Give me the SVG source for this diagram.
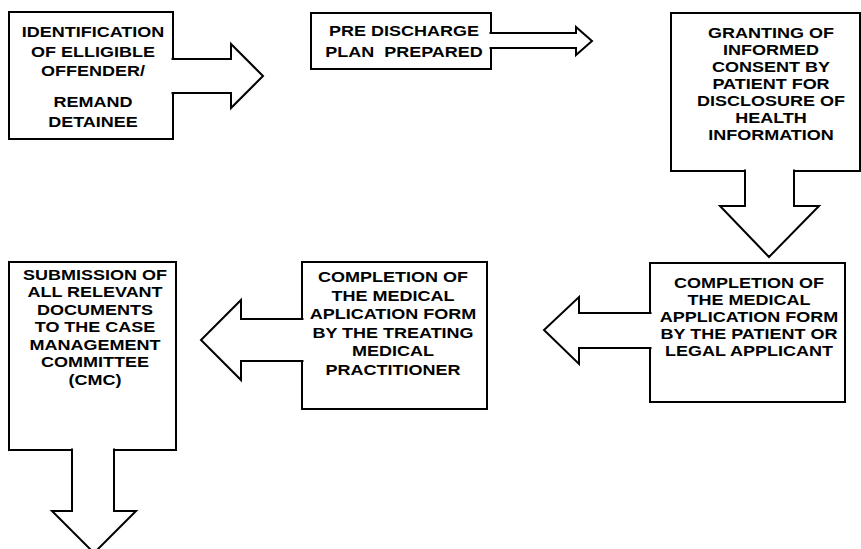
<svg xmlns="http://www.w3.org/2000/svg" width="861" height="549" viewBox="0 0 861 549">
<style>
.box{fill:#fff;stroke:#000;stroke-width:2}
.arr{fill:#fff;stroke:#000;stroke-width:2;stroke-linejoin:miter}
text{font-family:"Liberation Sans",Arial,sans-serif;font-weight:bold;font-size:15px;text-anchor:middle;fill:#000}
</style>
<rect width="861" height="549" fill="#fff"/>
<g id="n1">
<rect class="box" x="9" y="12" width="164" height="127"/>
<g transform="translate(93,0) scale(1.2,1)">
<text x="0" y="37.5">IDENTIFICATION</text>
<text x="0" y="57.5">OF ELLIGIBLE</text>
<text x="0" y="76.5">OFFENDER/</text>
<text x="0" y="107.5">REMAND</text>
<text x="0" y="127.5">DETAINEE</text>
</g>
</g>
<g id="n2">
<rect class="box" x="311" y="13" width="180" height="56"/>
<g transform="translate(404,0) scale(1.2,1)">
<text x="0" y="36.5">PRE DISCHARGE</text>
<text x="0" y="57.5" xml:space="preserve">PLAN  PREPARED</text>
</g>
</g>
<g id="n3">
<rect class="box" x="671" y="13" width="189" height="158"/>
<g transform="translate(771,0) scale(1.2,1)">
<text x="0" y="38.5">GRANTING OF</text>
<text x="0" y="55.5">INFORMED</text>
<text x="0" y="72.5">CONSENT BY</text>
<text x="0" y="89.5">PATIENT FOR</text>
<text x="0" y="106.5">DISCLOSURE OF</text>
<text x="0" y="123.5">HEALTH</text>
<text x="0" y="140.5">INFORMATION</text>
</g>
</g>
<g id="n4">
<rect class="box" x="650" y="263" width="195" height="139"/>
<g transform="translate(749,0) scale(1.2,1)">
<text x="0" y="288.5">COMPLETION OF</text>
<text x="0" y="305.5">THE MEDICAL</text>
<text x="0" y="322.5">APPLICATION FORM</text>
<text x="0" y="339.5">BY THE PATIENT OR</text>
<text x="0" y="356.5">LEGAL APPLICANT</text>
</g>
</g>
<g id="n5">
<rect class="box" x="302" y="262" width="185" height="147"/>
<g transform="translate(393,0) scale(1.2,1)">
<text x="0" y="282.5">COMPLETION OF</text>
<text x="0" y="301">THE MEDICAL</text>
<text x="0" y="319.5">APLICATION FORM</text>
<text x="0" y="338">BY THE TREATING</text>
<text x="0" y="356.5">MEDICAL</text>
<text x="0" y="375">PRACTITIONER</text>
</g>
</g>
<g id="n6">
<rect class="box" x="9" y="262" width="167" height="188"/>
<g transform="translate(95,0) scale(1.2,1)">
<text x="0" y="280.5">SUBMISSION OF</text>
<text x="0" y="297.5">ALL RELEVANT</text>
<text x="0" y="315">DOCUMENTS</text>
<text x="0" y="332.5">TO THE CASE</text>
<text x="0" y="350">MANAGEMENT</text>
<text x="0" y="367.5">COMMITTEE</text>
<text x="0" y="385">(CMC)</text>
</g>
</g>
<g id="connectors">
<path class="arr" d="M171.5,59 H231 V44 L263,76 L231,108 V93 H171.5"/>
<path class="arr" d="M489.5,33 H576 V27 L592,41 L576,55 V48 H489.5"/>
<path class="arr" d="M745,169.5 V206 H720 L769,257 L819,206 H794 V169.5"/>
<path class="arr" d="M651.5,313 H579 V297 L544,330 L579,364 V348 H651.5"/>
<path class="arr" d="M303.5,319 H241 V300 L201,340 L241,380 V361 H303.5"/>
<path class="arr" d="M72,448.5 V511 H52 L94,553 L136,511 H114 V448.5"/>
</g>
</svg>
